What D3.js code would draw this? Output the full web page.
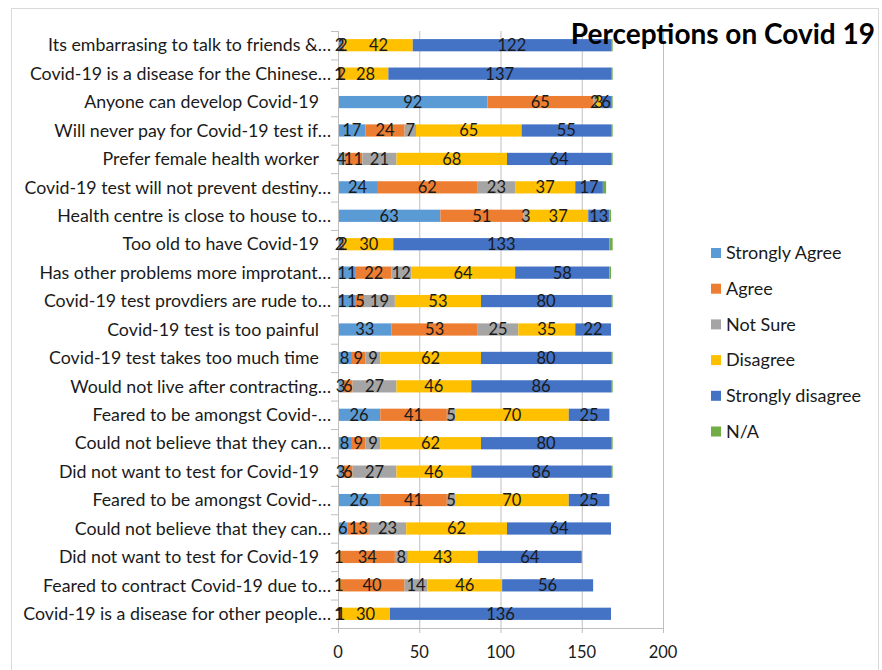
<!DOCTYPE html>
<html>
<head>
<meta charset="utf-8">
<script src="https://cdn.jsdelivr.net/npm/d3@7/dist/d3.min.js"></script>
<style>
  html, body { margin: 0; padding: 0; background: #fff; }
  svg { display: block; }
  text { font-family: Lato, "Open Sans", sans-serif; }
</style>
</head>
<body>
<script>
const categories = [
  "Its embarrasing to talk to friends &…",
  "Covid-19 is a disease for the Chinese…",
  "Anyone can develop Covid-19",
  "Will never pay for Covid-19 test if…",
  "Prefer female health worker",
  "Covid-19 test will not prevent destiny…",
  "Health centre is close to house to…",
  "Too old to have Covid-19",
  "Has other problems more improtant…",
  "Covid-19 test provdiers are rude to…",
  "Covid-19 test is too painful",
  "Covid-19 test takes too much time",
  "Would not live after contracting…",
  "Feared to be amongst Covid-…",
  "Could not believe that they can…",
  "Did not want to test for Covid-19",
  "Feared to be amongst Covid-…",
  "Could not believe that they can…",
  "Did not want to test for Covid-19",
  "Feared to contract Covid-19 due to…",
  "Covid-19 is a disease for other people…"
];
const seriesNames = ["Strongly Agree", "Agree", "Not Sure", "Disagree", "Strongly disagree", "N/A"];
const stronglyAgree    = [2, 1, 92, 17, 4, 24, 63, 2, 11, 11, 33, 8, 3, 26, 8, 3, 26, 6, 1, 1, 1];
const agree            = [2, 2, 65, 24, 11, 62, 51, 2, 22, 5, 53, 9, 6, 41, 9, 6, 41, 13, 34, 40, 1];
const notSure          = [0, 0, 2, 7, 21, 23, 3, 0, 12, 19, 25, 9, 27, 5, 9, 27, 5, 23, 8, 14, 0];
const disagree         = [42, 28, 3, 65, 68, 37, 37, 30, 64, 53, 35, 62, 46, 70, 62, 46, 70, 62, 43, 46, 30];
const stronglyDisagree = [122, 137, 6, 55, 64, 17, 13, 133, 58, 80, 22, 80, 86, 25, 80, 86, 25, 64, 64, 56, 136];
const naValues         = [1, 1, 1, 1, 1, 2, 1, 2, 1, 1, 0, 1, 1, 0, 1, 1, 0, 0, 0, 0, 0];
const labelledSeries = ["Strongly Agree", "Agree", "Not Sure", "Disagree", "Strongly disagree"];
const xTicks = [0, 50, 100, 150, 200];
const colors = ["#5B9BD5", "#ED7D31", "#A5A5A5", "#FFC000", "#4472C4", "#70AD47"];
const title = "Perceptions on Covid 19";

const W = 882, H = 670;
const svg = d3.select("body").append("svg").attr("width", W).attr("height", H);

// chart border
svg.append("rect").attr("x", 11.5).attr("y", 8.5).attr("width", 867).attr("height", 700)
  .attr("fill", "none").attr("stroke", "#d9d9d9");

const pL = 338, pT = 31, plotW = 325, plotH = 597;
const x = d3.scaleLinear().domain([0, 200]).range([pL, pL + plotW]);
const y = d3.scaleBand().domain(d3.range(categories.length)).range([pT, pT + plotH]).paddingInner(0.57).paddingOuter(0.285);

const table = categories.map((c, i) => ({
  i, cat: c,
  "Strongly Agree": stronglyAgree[i], "Agree": agree[i], "Not Sure": notSure[i],
  "Disagree": disagree[i], "Strongly disagree": stronglyDisagree[i], "N/A": naValues[i]
}));
const stack = d3.stack().keys(seriesNames)(table);

// gridlines
svg.append("g").selectAll("line").data(xTicks.slice(1)).join("line")
  .attr("x1", d => x(d) + 0.5).attr("x2", d => x(d) + 0.5)
  .attr("y1", pT).attr("y2", pT + plotH)
  .attr("stroke", "#bfbfbf").attr("stroke-width", 1);

// bars
stack.forEach((s, k) => {
  svg.append("g").selectAll("rect").data(s).join("rect")
    .attr("x", d => x(d[0])).attr("width", d => x(d[1]) - x(d[0]))
    .attr("y", d => y(d.data.i)).attr("height", y.bandwidth())
    .attr("fill", colors[k]);
});

// y axis line & ticks
const axisColor = "#bfbfbf";
svg.append("line").attr("x1", pL + 0.5).attr("x2", pL + 0.5).attr("y1", pT).attr("y2", pT + plotH + 5)
  .attr("stroke", axisColor);
const step = y.step();
svg.append("g").selectAll("line").data(d3.range(categories.length + 1)).join("line")
  .attr("x1", pL - 7).attr("x2", pL)
  .attr("y1", d => pT + d * step + 0.5).attr("y2", d => pT + d * step + 0.5)
  .attr("stroke", axisColor);
// x axis line & ticks
svg.append("line").attr("x1", pL).attr("x2", pL + plotW + 0.5).attr("y1", pT + plotH + 0.5).attr("y2", pT + plotH + 0.5)
  .attr("stroke", axisColor);
svg.append("g").selectAll("line").data(xTicks).join("line")
  .attr("x1", d => x(d) + 0.5).attr("x2", d => x(d) + 0.5)
  .attr("y1", pT + plotH).attr("y2", pT + plotH + 5)
  .attr("stroke", axisColor);
svg.append("g").selectAll("text").data(xTicks).join("text")
  .attr("x", d => x(d)).attr("y", pT + plotH + 30)
  .attr("text-anchor", "middle").attr("font-size", 16.5).attr("fill", "#1a1a1a")
  .text(d => d);

// category labels
svg.append("g").selectAll("text").data(categories).join("text")
  .attr("x", d => d.endsWith("…") ? pL - 7 : pL - 19)
  .attr("y", (d, i) => y(i) + y.bandwidth() / 2)
  .attr("dy", "0.35em").attr("text-anchor", "end")
  .attr("font-size", 17.8).attr("fill", "#1a1a1a")
  .text(d => d);

// value labels (N/A segments carry no label)
stack.filter(s => labelledSeries.includes(s.key)).forEach(s => {
  svg.append("g").selectAll("text").data(s.filter(d => d[1] - d[0] > 0)).join("text")
    .attr("x", d => x((d[0] + d[1]) / 2))
    .attr("y", d => y(d.data.i) + y.bandwidth() / 2)
    .attr("dy", "0.36em").attr("text-anchor", "middle")
    .attr("font-size", 16.5).attr("fill", "#1a1a1a")
    .text(d => d[1] - d[0]);
});

// title
svg.append("text").attr("x", 875).attr("y", 44).attr("text-anchor", "end")
  .attr("font-size", 28).attr("font-weight", "bold").attr("fill", "#000")
  .text(title);

// legend
const lg = svg.append("g");
seriesNames.forEach((n, k) => {
  const cy = 253 + k * 35.7;
  lg.append("rect").attr("x", 711).attr("y", cy - 5).attr("width", 10).attr("height", 10).attr("fill", colors[k]);
  lg.append("text").attr("x", 726).attr("y", cy).attr("dy", "0.35em")
    .attr("font-size", 18).attr("fill", "#1a1a1a").text(n);
});
</script>
</body>
</html>
